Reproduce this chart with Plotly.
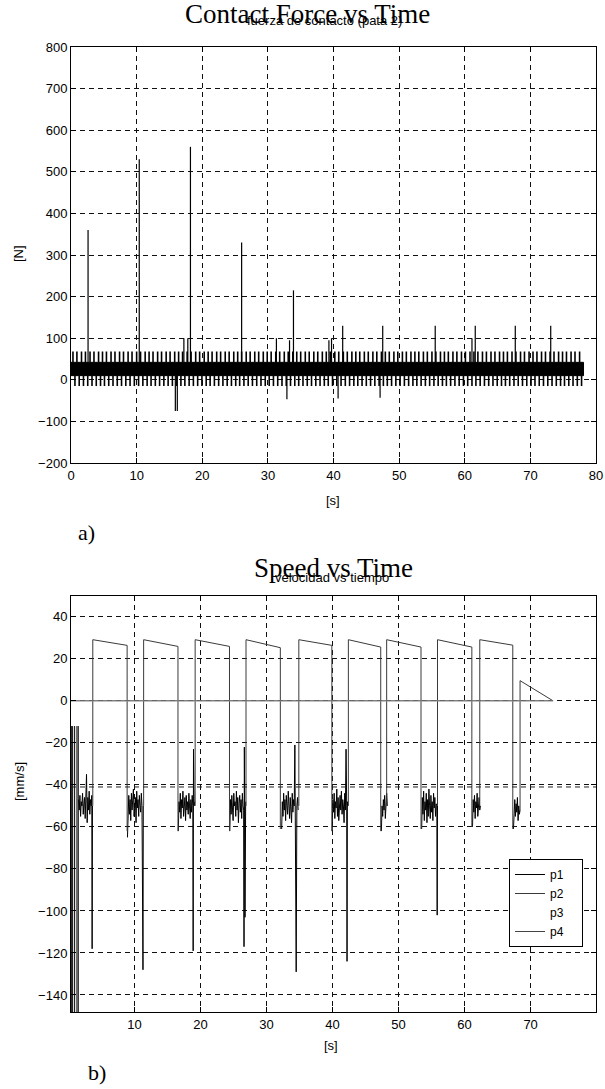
import plotly.graph_objects as go

# ---------------- data: contact force (top) ----------------
band_t = [0.0, 78.1]
band_lo = 10
band_hi = 42
up_level = 68
dn_level = -15
up_t = [0.3, 0.9, 1.6, 2.2, 2.9, 3.5, 4.2, 4.8, 5.4, 6.1, 6.7, 7.4, 8.0, 8.7, 9.3, 10.0, 10.6, 11.3, 11.9, 12.5,
        13.2, 13.8, 14.5, 15.1, 15.8, 16.4, 17.0, 17.7, 18.3, 19.0, 19.6, 20.3, 20.9, 21.5, 22.2, 22.8, 23.5, 24.1,
        24.8, 25.4, 26.0, 26.7, 27.3, 28.0, 28.6, 29.3, 29.9, 30.5, 31.2, 31.8, 32.5, 33.1, 33.8, 34.4, 35.0, 35.7,
        36.3, 37.0, 37.6, 38.3, 38.9, 39.5, 40.2, 40.8, 41.5, 42.1, 42.8, 43.4, 44.0, 44.7, 45.3, 46.0, 46.6, 47.3,
        47.9, 48.5, 49.2, 49.8, 50.5, 51.1, 51.8, 52.4, 53.0, 53.7, 54.3, 55.0, 55.6, 56.3, 56.9, 57.5, 58.2, 58.8,
        59.5, 60.1, 60.8, 61.4, 62.0, 62.7, 63.3, 64.0, 64.6, 65.3, 65.9, 66.5, 67.2, 67.8, 68.5, 69.1, 69.8, 70.4,
        71.0, 71.7, 72.3, 73.0, 73.6, 74.3, 74.9, 75.5, 76.2, 76.8, 77.5]
dn_t = [0.6, 1.25, 1.9, 2.55, 3.2, 3.85, 4.5, 5.1, 5.75, 6.4, 7.05, 7.7, 8.35, 9.0, 9.65, 10.3, 10.95, 11.6, 12.2,
        12.85, 13.5, 14.15, 14.8, 15.45, 16.1, 16.75, 17.35, 18.0, 18.65, 19.3, 19.95, 20.6, 21.2, 21.85, 22.5,
        23.15, 23.8, 24.45, 25.1, 25.7, 26.35, 27.0, 27.65, 28.3, 28.95, 29.6, 30.2, 30.85, 31.5, 32.15, 32.8,
        33.45, 34.1, 34.7, 35.35, 36.0, 36.65, 37.3, 37.95, 38.6, 39.2, 39.85, 40.5, 41.15, 41.8, 42.45, 43.1,
        43.7, 44.35, 45.0, 45.65, 46.3, 46.95, 47.6, 48.2, 48.85, 49.5, 50.15, 50.8, 51.45, 52.1, 52.7, 53.35,
        54.0, 54.65, 55.3, 55.95, 56.6, 57.2, 57.85, 58.5, 59.15, 59.8, 60.45, 61.1, 61.7, 62.35, 63.0, 63.65,
        64.3, 64.95, 65.6, 66.2, 66.85, 67.5, 68.15, 68.8, 69.45, 70.1, 70.7, 71.35, 72.0, 72.65, 73.3, 73.95,
        74.6, 75.2, 75.85, 76.5, 77.15, 77.8]
spike_t = [2.6, 10.4, 17.2, 17.8, 18.2, 26.0, 31.3, 33.3, 33.9, 39.3, 39.7, 41.4, 47.5, 55.5, 61.1, 61.6, 67.7, 73.1]
spike_v = [360, 530, 100, 100, 560, 330, 100, 95, 215, 95, 100, 130, 130, 130, 100, 130, 130, 130]
dip_t = [15.9, 16.2, 32.9, 40.7, 47.1]
dip_v = [-75, -75, -47, -45, -43]

# ---------------- data: speed (bottom) ----------------
trap_start = [3.7, 11.4, 19.2, 26.9, 34.9, 42.4, 48.2, 55.9, 62.3, 68.4]
trap_base = [-50, -50, -50, -50, -50, -50, -50, -50, -50, -52]
trap_top = [29.1, 29.1, 29.1, 29.1, 29.1, 29.1, 29.1, 29.1, 29.1, 9.6]
trap_end = [8.9, 16.6, 24.4, 32.1, 39.9, 47.3, 53.4, 61.1, 67.3, 73.4]
trap_end_v = [26.4, 25.9, 25.9, 25.3, 26.4, 25.6, 25.6, 25.6, 26.5, 0.0]
trap_drop = [-62, -62, -62, -61, -62, -62, -61, -60, -61, 0.0]

zero_t = [0.4, 73.4]
zero_v = [0, 0]
ref_t = [0.4, 79.9]
ref_v = [-41, -41]

lspike_t = [0.45, 0.65, 0.95, 1.3, 1.5]
lspike_top = [-12, -12, -12, -12, -12]
lspike_low = [-150, -150, -150, -150, -150]

c1_t = [1.55, 1.65, 1.75, 1.85, 1.95, 2.05, 2.15, 2.25, 2.35, 2.45, 2.55, 2.65, 2.75, 2.85, 2.95, 3.05, 3.15, 3.25,
        3.35, 3.45, 3.55, 3.6, 3.65]
c1_v = [-47, -52, -45, -55, -48, -50, -44, -54, -49, -46, -56, -47, -35, -58, -46, -52, -43, -54, -47, -50, -45,
        -118, -50]
c2_t = [8.95, 9.05, 9.15, 9.25, 9.35, 9.45, 9.55, 9.65, 9.75, 9.85, 9.95, 10.05, 10.15, 10.25, 10.35, 10.45, 10.55,
        10.65, 10.75, 10.85, 10.95, 11.05, 11.15, 11.3, 11.35]
c2_v = [-65, -50, -45, -54, -47, -57, -44, -52, -48, -42, -55, -49, -46, -58, -43, -51, -47, -55, -45, -50, -53, -44,
        -50, -128, -50]
c3_t = [16.65, 16.75, 16.85, 16.95, 17.05, 17.15, 17.25, 17.35, 17.45, 17.55, 17.65, 17.75, 17.85, 17.95, 18.05,
        18.15, 18.25, 18.35, 18.45, 18.55, 18.65, 18.75, 18.85, 18.9, 18.95, 19.05, 19.15]
c3_v = [-62, -48, -53, -44, -56, -47, -51, -43, -55, -49, -46, -57, -45, -52, -48, -54, -44, -50, -56, -47, -53, -45,
        -50, -119, -23, -50, -48]
c4_t = [24.45, 24.55, 24.65, 24.75, 24.85, 24.95, 25.05, 25.15, 25.25, 25.35, 25.45, 25.55, 25.65, 25.75, 25.85,
        25.95, 26.05, 26.15, 26.25, 26.35, 26.45, 26.55, 26.6, 26.65, 26.7, 26.75, 26.85]
c4_v = [-62, -47, -54, -45, -51, -57, -44, -50, -48, -55, -43, -52, -46, -58, -49, -45, -53, -47, -56, -44, -50, -52,
        -117, -22, -50, -103, -48]
c5_t = [32.3, 32.4, 32.5, 32.6, 32.7, 32.8, 32.9, 33.0, 33.1, 33.2, 33.3, 33.4, 33.5, 33.6, 33.7, 33.8, 33.9, 34.0,
        34.1, 34.2, 34.3, 34.35, 34.45, 34.5, 34.6, 34.7, 34.8]
c5_v = [-61, -48, -55, -44, -52, -47, -57, -45, -50, -54, -43, -49, -56, -46, -51, -58, -44, -53, -47, -50, -21, -50,
        -48, -129, -50, -46, -52]
c6_t = [39.95, 40.05, 40.15, 40.25, 40.35, 40.45, 40.55, 40.65, 40.75, 40.85, 40.95, 41.05, 41.15, 41.25, 41.35,
        41.45, 41.55, 41.65, 41.75, 41.85, 41.95, 42.05, 42.15, 42.2, 42.25, 42.3]
c6_v = [-62, -47, -53, -44, -56, -48, -51, -42, -55, -46, -57, -49, -45, -52, -43, -54, -47, -50, -58, -44, -52, -23,
        -50, -124, -48, -50]
c7_t = [47.4, 47.5, 47.6, 47.7, 47.8, 47.9, 48.0, 48.1, 48.2, 48.3]
c7_v = [-62, -50, -55, -47, -52, -45, -56, -48, -44, -50]
c8_t = [53.5, 53.6, 53.7, 53.8, 53.9, 54.0, 54.1, 54.2, 54.3, 54.4, 54.5, 54.6, 54.7, 54.8, 54.9, 55.0, 55.1, 55.2,
        55.3, 55.4, 55.5, 55.6, 55.7, 55.8, 55.85, 55.9]
c8_v = [-61, -46, -54, -43, -57, -48, -52, -44, -58, -47, -55, -42, -50, -56, -45, -53, -48, -57, -44, -51, -46, -55,
        -49, -50, -102, -50]
c9_t = [61.2, 61.3, 61.4, 61.5, 61.6, 61.7, 61.8, 61.9, 62.0, 62.1, 62.2, 62.3, 62.4]
c9_v = [-60, -47, -53, -45, -56, -48, -51, -44, -55, -49, -46, -52, -50]
c10_t = [67.4, 67.5, 67.6, 67.7, 67.8, 67.9, 68.0, 68.1, 68.2, 68.3, 68.4]
c10_v = [-61, -52, -47, -55, -49, -53, -46, -57, -50, -54, -52]

top_xticks = [0, 10, 20, 30, 40, 50, 60, 70, 80]
top_yticks = [-200, -100, 0, 100, 200, 300, 400, 500, 600, 700, 800]
bot_xticks = [10, 20, 30, 40, 50, 60, 70]
bot_yticks = [-140, -120, -100, -80, -60, -40, -20, 0, 20, 40]
legend_names = ['p1', 'p2', 'p3', 'p4']

# ---------------- figure ----------------
W, H = 605, 1089


def px(x):
    return x / W


def py(y):
    return 1 - y / H


fig = go.Figure()

# top: dense band
fig.add_trace(go.Scatter(
    x=[band_t[0], band_t[1], band_t[1], band_t[0], band_t[0]],
    y=[band_lo, band_lo, band_hi, band_hi, band_lo],
    fill='toself', fillcolor='black', mode='lines', line=dict(color='black', width=1),
    xaxis='x', yaxis='y', showlegend=False, hoverinfo='skip'))

tx, ty = [], []
for t in up_t:
    tx += [t, t, None]
    ty += [band_hi, up_level, None]
for t in dn_t:
    tx += [t, t, None]
    ty += [band_lo, dn_level, None]
fig.add_trace(go.Scatter(x=tx, y=ty, mode='lines', line=dict(color='black', width=1.6),
                         xaxis='x', yaxis='y', showlegend=False, hoverinfo='skip'))

sx, sy = [], []
for t, v in zip(spike_t, spike_v):
    sx += [t, t, None]
    sy += [band_hi, v, None]
for t, v in zip(dip_t, dip_v):
    sx += [t, t, None]
    sy += [band_lo, v, None]
fig.add_trace(go.Scatter(x=sx, y=sy, mode='lines', line=dict(color='black', width=1.2),
                         xaxis='x', yaxis='y', showlegend=False, hoverinfo='skip'))

pad = '\u00a0\u00a0\u00a0\u00a0'

# bottom: p1 (black noise + spikes)
p1x, p1y = [], []
for t, a, b in zip(lspike_t, lspike_top, lspike_low):
    p1x += [t, t, None]
    p1y += [a, b, None]
for ct, cv in [(c1_t, c1_v), (c2_t, c2_v), (c3_t, c3_v), (c4_t, c4_v), (c5_t, c5_v),
               (c6_t, c6_v), (c7_t, c7_v), (c8_t, c8_v), (c9_t, c9_v), (c10_t, c10_v)]:
    p1x += list(ct) + [None]
    p1y += list(cv) + [None]
fig.add_trace(go.Scatter(x=p1x, y=p1y, mode='lines', name=legend_names[0] + pad,
                         line=dict(color='black', width=1), xaxis='x2', yaxis='y2', hoverinfo='skip'))

# p2 (trapezoids)
p2x, p2y = [], []
for s, b, tp, e, ev, d in zip(trap_start, trap_base, trap_top, trap_end, trap_end_v, trap_drop):
    p2x += [s, s, e, e, None]
    p2y += [b, tp, ev, d, None]
fig.add_trace(go.Scatter(x=p2x, y=p2y, mode='lines', name=legend_names[1] + pad,
                         line=dict(color='#3a3a3a', width=1), xaxis='x2', yaxis='y2', hoverinfo='skip'))

# p3 (invisible light trace)
fig.add_trace(go.Scatter(x=zero_t, y=zero_v, mode='lines', name=legend_names[2] + pad,
                         line=dict(color='white', width=1), xaxis='x2', yaxis='y2', hoverinfo='skip'))

# p4 (zero line)
fig.add_trace(go.Scatter(x=zero_t, y=zero_v, mode='lines', name=legend_names[3] + pad,
                         line=dict(color='#444444', width=1), xaxis='x2', yaxis='y2', hoverinfo='skip'))

# dashed line near -41
fig.add_trace(go.Scatter(x=ref_t, y=ref_v, mode='lines', line=dict(color='#222222', width=1, dash='5px,4px'),
                         xaxis='x2', yaxis='y2', showlegend=False, hoverinfo='skip'))

axis_common = dict(showline=True, linecolor='black', linewidth=1, mirror='ticks', ticks='inside',
                   ticklen=5, tickcolor='black', showgrid=True, gridcolor='#111111', gridwidth=0.8,
                   griddash='5px,4px', zeroline=False, automargin=False,
                   tickfont=dict(family='Liberation Sans, Arial, sans-serif', size=13, color='black'))

xdom = [px(71), px(596)]
fig.update_layout(
    width=W, height=H, margin=dict(l=0, r=0, t=0, b=0),
    paper_bgcolor='white', plot_bgcolor='white',
    xaxis=dict(domain=xdom, range=[0, 80], tickvals=top_xticks, anchor='y', **axis_common),
    yaxis=dict(domain=[py(463), py(47)], range=[-200, 800], tickvals=top_yticks, anchor='x', **axis_common),
    xaxis2=dict(domain=xdom, range=[0.4, 79.9], tickvals=bot_xticks, anchor='y2', **axis_common),
    yaxis2=dict(domain=[py(1012), py(596)], range=[-148.1, 49.9], tickvals=bot_yticks, anchor='x2',
                **axis_common),
    legend=dict(x=px(509), y=py(859), xanchor='left', yanchor='top', bgcolor='white',
                bordercolor='black', borderwidth=1, itemwidth=30, tracegroupgap=0,
                font=dict(family='Liberation Sans, Arial, sans-serif', size=12, color='black')),
    showlegend=True,
)

serif = 'Liberation Serif, Times New Roman, serif'
sans = 'Liberation Sans, Arial, sans-serif'
texts = [
    ('Contact Force vs Time', 307, 14, serif, 27, 0),
    ('fuerza de contacto (pata 2)', 324, 21, sans, 13, 0),
    ('[N]', 18, 254, sans, 13, -90),
    ('[s]', 333, 500, sans, 13, 0),
    ('a)', 86, 532, serif, 22, 0),
    ('Speed vs Time', 333, 568, serif, 27, 0),
    ('velocidad vs tiempo', 332, 577, sans, 13, 0),
    ('[mm/s]', 19, 782, sans, 13, -90),
    ('[s]', 331, 1045, sans, 13, 0),
    ('b)', 97, 1072, serif, 22, 0),
]
for txt, x, y, fam, size, ang in texts:
    fig.add_annotation(text=txt, x=px(x), y=py(y), xref='paper', yref='paper', showarrow=False,
                       xanchor='center', yanchor='middle', textangle=ang,
                       font=dict(family=fam, size=size, color='black'))

fig.write_html("out.html", config={'displayModeBar': False},
               post_script="document.body.style.margin='0px';document.body.style.overflow='hidden';")
